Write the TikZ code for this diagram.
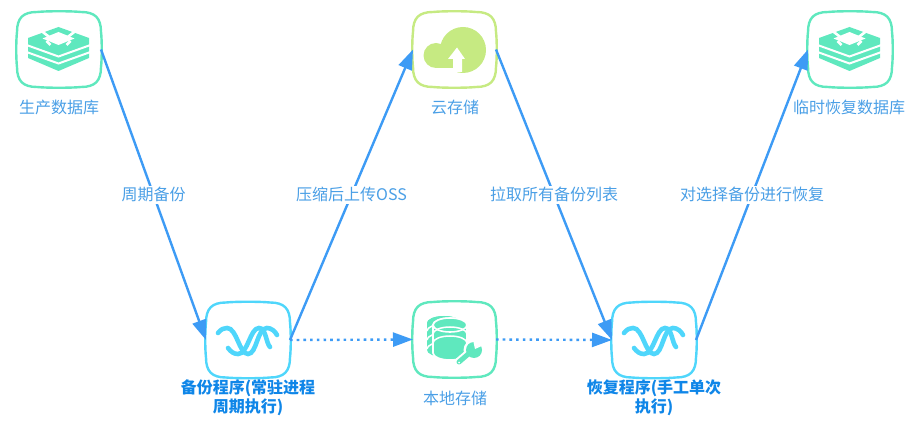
\documentclass[tikz,border=0pt]{standalone}
\usepackage{fontspec}
\setmainfont{Noto Sans CJK SC}
\usetikzlibrary{arrows.meta,calc}
\definecolor{mint}{HTML}{5FE8BE}
\definecolor{sky}{HTML}{4FD6FB}
\definecolor{lime}{HTML}{C6EA82}
\definecolor{link}{HTML}{3D9BF5}
\definecolor{labelc}{HTML}{4A9FE6}
\definecolor{boldc}{HTML}{0F86E8}
\tikzset{
  anchorbox/.style={minimum width=84pt,minimum height=75pt,inner sep=0pt,outer sep=0pt},
  nodetext/.style={text=labelc,font=\fontsize{16}{19}\selectfont,align=center,inner sep=1pt},
  boldtext/.style={text=boldc,font=\fontsize{16}{19}\selectfont\bfseries,align=center,inner sep=1pt},
  edgelabel/.style={text=labelc,font=\fontsize{16}{19}\selectfont,fill=white,inner sep=1.5pt},
  flow/.style={draw=link,line width=2.4pt,-{Triangle[length=20pt,width=14pt]}},
  flowdot/.style={flow,dash pattern=on 2.6pt off 4.1pt},
}
\newcommand{\squircle}[2]{%
  \draw[#2,line width=2.4pt]
    ($(#1.north west)+(20,0)$) .. controls ($(#1.north)+(-12,-1)$) and ($(#1.north)+(12,-1)$) .. ($(#1.north east)+(-20,0)$)
    .. controls ($(#1.north east)+(-6,0)$) and ($(#1.north east)+(0,6)$) .. ($(#1.north east)+(0,20)$)
    .. controls ($(#1.east)+(1,-10)$) and ($(#1.east)+(1,10)$) .. ($(#1.south east)+(0,-20)$)
    .. controls ($(#1.south east)+(0,-6)$) and ($(#1.south east)+(-6,0)$) .. ($(#1.south east)+(-20,0)$)
    .. controls ($(#1.south)+(12,1)$) and ($(#1.south)+(-12,1)$) .. ($(#1.south west)+(20,0)$)
    .. controls ($(#1.south west)+(6,0)$) and ($(#1.south west)+(0,-6)$) .. ($(#1.south west)+(0,-20)$)
    .. controls ($(#1.west)+(-1,10)$) and ($(#1.west)+(-1,-10)$) .. ($(#1.north west)+(0,20)$)
    .. controls ($(#1.north west)+(0,6)$) and ($(#1.north west)+(6,0)$) .. cycle;}
\newcommand{\stackicon}[1]{%
  \begin{scope}[shift={(#1)}]
    \fill[mint] (-30.5,-11) -- (0,-22) -- (30.5,-11) -- (30.5,9) -- (0,22) -- (-30.5,9) -- cycle;
    \draw[white,line width=2pt] (-32,-4) -- (0,7.5) -- (32,-4);
    \draw[white,line width=2pt] (-32,3) -- (0,14.5) -- (32,3);
    \fill[white] (-16,-10.5) -- (0,-17) -- (16,-10.5) -- (0,-4) -- cycle;
    \draw[white,line width=2.6pt] (-8,-11) -- (-17,-18) (8,-11) -- (17,-18) (-12,-8) -- (-8,-4) (12,-8) -- (8,-4);
  \end{scope}}
\newcommand{\waveicon}[1]{%
  \begin{scope}[shift={(#1)},sky,line width=4.6pt,line cap=round]
    \draw (-30,-7) .. controls (-27,-11) and (-24,-12) .. (-21,-12) .. controls (-11,-12) and (-9,14) .. (0,14) .. controls (9,14) and (9,-12) .. (19,-12) .. controls (23,-12) and (27,-9) .. (29,-5);
    \draw (-20,8) .. controls (-17,12) and (-14,14) .. (-10,14) .. controls (0,14) and (2,-12) .. (11,-12) .. controls (18,-12) and (18,3) .. (22,7);
  \end{scope}}
\begin{document}
\begin{tikzpicture}[x=1pt,y=-1pt]
\useasboundingbox (0,0) rectangle (915,427);
\node[anchorbox] (prod) at (59,49.5) {};
\node[anchorbox] (backup) at (248,340) {};
\node[anchorbox,minimum width=83pt] (cloud) at (454.5,49.5) {};
\node[anchorbox,minimum width=83pt] (local) at (454.5,339.5) {};
\node[anchorbox] (restore) at (654,340) {};
\node[anchorbox] (temp) at (850,49.5) {};
\squircle{prod}{mint}
\squircle{backup}{sky}
\squircle{cloud}{lime}
\squircle{local}{mint}
\squircle{restore}{sky}
\squircle{temp}{mint}
\stackicon{58.5,49}
\stackicon{849.5,49}
\waveicon{248,340}
\waveicon{654,340}
% cloud
\fill[lime] (463,50) circle[radius=23];
\fill[lime] (436,55.5) circle[radius=12.5];
\fill[lime] (436,45) rectangle (463,68);
\fill[white] (438,68) rectangle (457,75);
\fill[white] (457,47.5) -- (465,59) -- (462,59) -- (462,72) -- (453,72) -- (453,59) -- (448,59) -- cycle;
% database
\fill[mint] (427,323) arc[start angle=180,end angle=360,x radius=17,y radius=7] -- (461,350) arc[start angle=0,end angle=180,x radius=17,y radius=7] -- cycle;
\fill[mint] (444,323) ellipse[x radius=17,y radius=7];
\foreach \yy in {331,340,349}{\draw[white,line width=1.5pt] (427,\yy) arc[start angle=180,end angle=360,x radius=17,y radius=7];}
\draw[white,line width=1.6pt,fill=mint] (433,325) arc[start angle=180,end angle=360,x radius=17,y radius=7] -- (467,353) arc[start angle=0,end angle=180,x radius=17,y radius=7] -- cycle;
\draw[white,line width=1.6pt,fill=mint] (450,325) ellipse[x radius=17,y radius=7];
\foreach \yy in {334,343}{\draw[white,line width=1.5pt] (433,\yy) arc[start angle=180,end angle=360,x radius=17,y radius=7];}
\draw[white,line width=9pt,line cap=round] (459,362) -- (473,350);
\fill[white] (474,350) circle[radius=10.5];
\draw[mint,line width=5pt,line cap=round] (459,362) -- (473,350);
\fill[mint] (474,350) circle[radius=8];
\fill[white] (475,349) -- (473,340) -- (484,345) -- cycle;
\fill[white] (459,362.5) circle[radius=1];
% texts
\node[nodetext] (t1) at (59,107) {生产数据库};
\node[nodetext] (t3) at (455,107) {云存储};
\node[nodetext] (t6) at (849,107) {临时恢复数据库};
\node[nodetext] (t4) at (455,398) {本地存储};
\node[boldtext] (t2) at (248,398) {备份程序(常驻进程\\周期执行)};
\node[boldtext] (t5) at (654,398) {恢复程序(手工单次\\执行)};
\draw[flow] (prod.east) -- node[edgelabel,pos=.5] {周期备份} (backup.west);
\draw[flow] (backup.east) -- node[edgelabel,pos=.5] {压缩后上传OSS} (cloud.west);
\draw[flow] (cloud.east) -- node[edgelabel,pos=.5] {拉取所有备份列表} (restore.west);
\draw[flow] (restore.east) -- node[edgelabel,pos=.5] {对选择备份进行恢复} (temp.west);
\draw[flowdot] (backup.east) -- (local.west);
\draw[flowdot] (local.east) -- (restore.west);
\end{tikzpicture}
\end{document}
